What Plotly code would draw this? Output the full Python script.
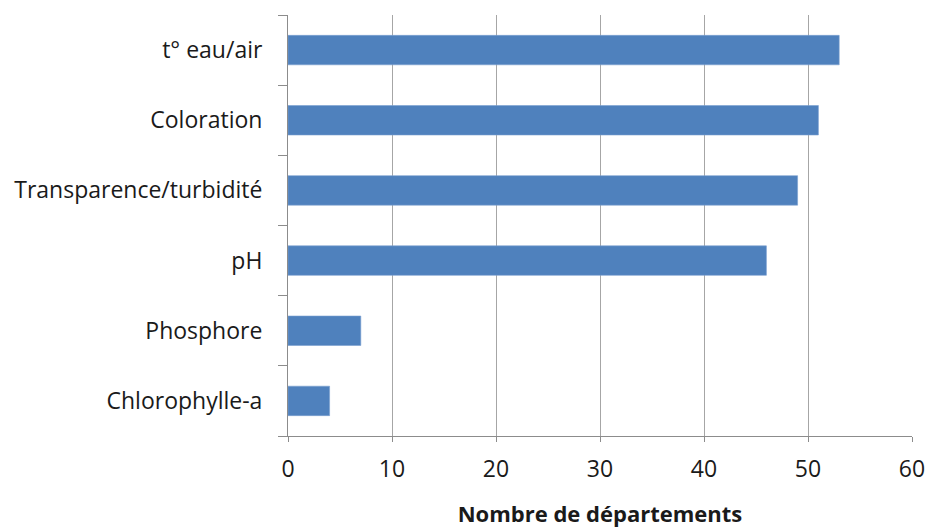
import plotly.graph_objects as go

categories = ["t° eau/air", "Coloration", "Transparence/turbidité", "pH", "Phosphore", "Chlorophylle-a"]
values = [53, 51, 49, 46, 7, 4]
x_ticks = [0, 10, 20, 30, 40, 50, 60]

font_family = "'Open Sans', sans-serif"

fig = go.Figure(
    go.Bar(
        x=values,
        y=categories,
        orientation="h",
        width=0.42,
        marker=dict(color="#4f81bd", line=dict(color="#7aa0d0", width=0.6)),
    )
)

fig.update_layout(
    width=928,
    height=528,
    margin=dict(l=288, r=16, t=15, b=92),
    paper_bgcolor="white",
    plot_bgcolor="white",
    showlegend=False,
    font=dict(family=font_family, size=23, color="#1a1a1a"),
)

fig.update_xaxes(
    range=[0, 60],
    tickvals=x_ticks,
    ticktext=[str(v) for v in x_ticks],
    automargin=False,
    showgrid=True,
    gridcolor="#a6a6a6",
    gridwidth=1,
    showline=True,
    linecolor="#8c8c8c",
    linewidth=1,
    ticks="outside",
    ticklen=5,
    tickcolor="#8c8c8c",
    ticklabelstandoff=7,
    zeroline=False,
    tickfont=dict(size=23),
    title=dict(
        text="<b>Nombre de départements</b>",
        font=dict(size=22, family=font_family),
        standoff=26,
    ),
)

fig.update_yaxes(
    categoryorder="array",
    categoryarray=categories[::-1],
    automargin=False,
    showgrid=False,
    showline=True,
    linecolor="#8c8c8c",
    linewidth=1,
    ticks="outside",
    tickson="boundaries",
    ticklen=9,
    tickcolor="#8c8c8c",
    ticklabelstandoff=20,
    tickfont=dict(size=23),
)

fig.write_html("out.html")
